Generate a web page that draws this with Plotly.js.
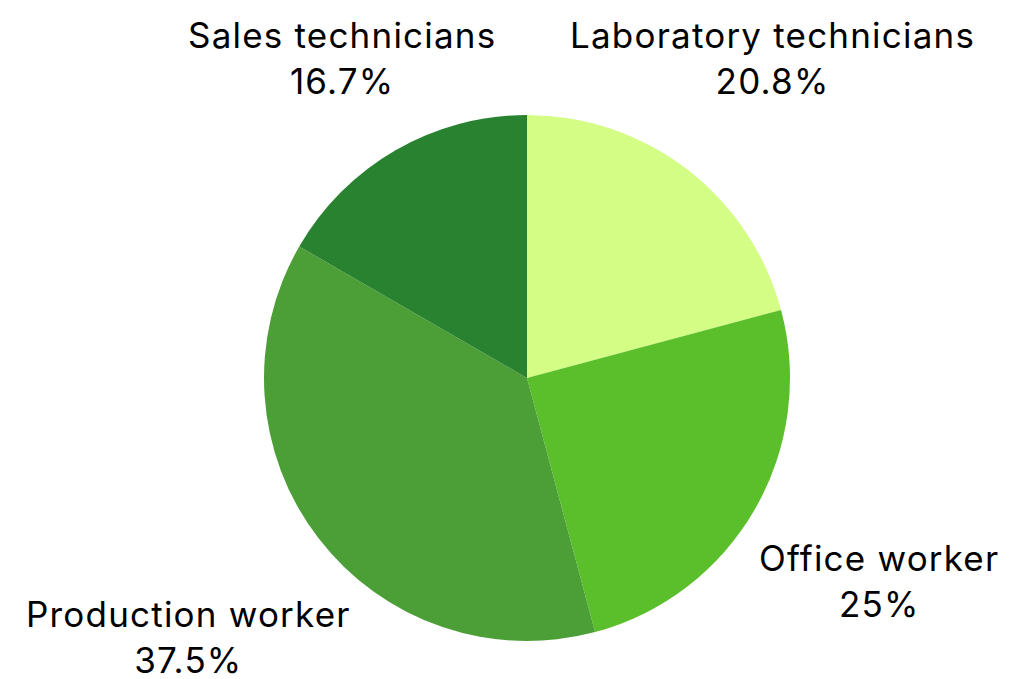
<!DOCTYPE html>
<html>
<head>
<meta charset="utf-8">
<script src="https://cdn.plot.ly/plotly-3.0.1.min.js"></script>
<style>
html, body { margin: 0; padding: 0; background: #fff; }
#chart { width: 1012px; height: 679px; }
/* the labels in the original are set a little looser than Inter */
.annotation-text { letter-spacing: 1.2px; }
</style>
</head>
<body>
<div id="chart"></div>
<script>
// staff groups, counts (5/24, 6/24, 9/24, 4/24)
let categories = ["Laboratory technicians", "Office worker", "Production worker", "Sales technicians"];
let counts = [5, 6, 9, 4];
let sliceColors = ["#d3fd84", "#5abf2b", "#4c9e37", "#288230"];
// how far out each label sits, in pie radii
let labelDist = [1.535, 1.546, 1.62, 1.407];

const W = 1012, H = 679;
const M = { l: 42, r: 0, t: 115, b: 38 };
const plotW = W - M.l - M.r, plotH = H - M.t - M.b;

function fmtPct(v) {
  let s = (Math.round(v * 1000) / 10).toFixed(1);
  return s.replace(/\.0$/, "") + "%";
}

// labels sit on the middle of each slice, outside the pie
let total = counts.reduce((a, b) => a + b, 0);
let rPx = Math.min(plotW, plotH) / 2;
let annotations = [];
let cum = 0;
for (let i = 0; i < counts.length; i++) {
  let frac = counts[i] / total;
  let mid = (cum + frac / 2) * 2 * Math.PI; // clockwise from 12 o'clock
  cum += frac;
  let d = rPx * labelDist[i];
  annotations.push({
    xref: "paper", yref: "paper",
    x: 0.5 + Math.sin(mid) * d / plotW,
    y: 0.5 + Math.cos(mid) * d / plotH,
    xanchor: "center", yanchor: "middle",
    text: categories[i] + "<br>" + fmtPct(frac),
    showarrow: false,
    font: { family: "Inter, sans-serif", size: 35, color: "#000" }
  });
}

let trace = {
  type: "pie",
  labels: categories,
  values: counts,
  sort: false,
  direction: "clockwise",
  rotation: 0,
  textinfo: "none",
  hoverinfo: "label+percent",
  marker: { colors: sliceColors, line: { width: 0 } }
};

let layout = {
  width: W,
  height: H,
  showlegend: false,
  paper_bgcolor: "#fff",
  margin: M,
  font: { family: "Inter, sans-serif", size: 35, color: "#000" },
  annotations: annotations
};

Plotly.newPlot("chart", [trace], layout, { displayModeBar: false, staticPlot: true });
</script>
</body>
</html>
